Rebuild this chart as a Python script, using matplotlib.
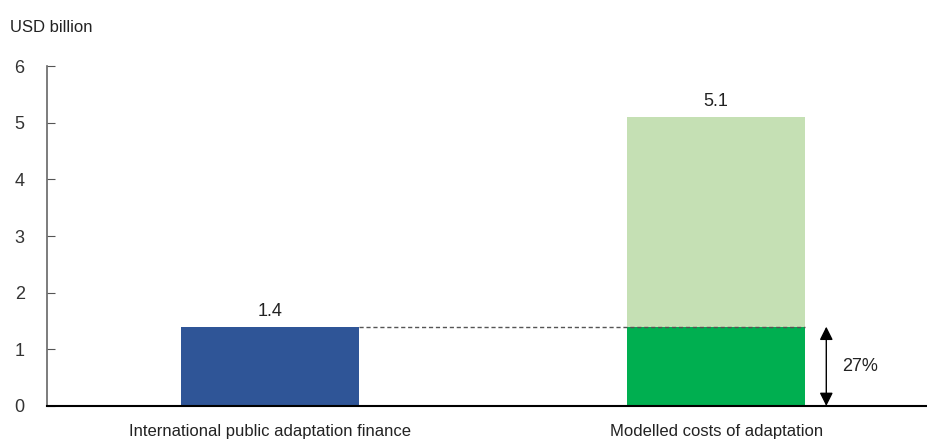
import matplotlib.pyplot as plt
import numpy as np

categories = ["International public adaptation finance", "Modelled costs of adaptation"]
public_finance = 1.4
modelled_costs = 5.1
covered_share = "27%"

plt.rcParams['font.family'] = ['Liberation Sans', 'DejaVu Sans']

fig = plt.figure(figsize=(9.28, 4.41), dpi=100)
ax = fig.add_axes([0.0506, 0.0794, 0.9494, 0.7706])

x = np.arange(len(categories))
w = 0.4

# left bar: finance provided
ax.bar(x[0], public_finance, width=w, color="#2F5597")
ax.text(x[0], public_finance + 0.12, f"{public_finance}", ha="center", va="bottom",
        fontsize=13, color="#222222")

# right bar: covered part + remaining gap
ax.bar(x[1], public_finance, width=w, color="#00AF50")
ax.bar(x[1], modelled_costs - public_finance, bottom=public_finance, width=w, color="#C5E0B4")
ax.text(x[1], modelled_costs + 0.12, f"{modelled_costs}", ha="center", va="bottom",
        fontsize=13, color="#222222")

# dashed guide at finance level
ax.plot([x[0] + w / 2, x[1] + w / 2], [public_finance, public_finance],
        ls=(0, (3, 2)), color="#555555", lw=1)

# double arrow showing the share
arr_x = x[1] + w / 2 + 0.047
ax.annotate("", xy=(arr_x, 0), xytext=(arr_x, public_finance),
            arrowprops=dict(arrowstyle="<|-|>", color="black", lw=1,
                            mutation_scale=20, shrinkA=0, shrinkB=0))
ax.text(arr_x + 0.035, public_finance / 2, covered_share, ha="left", va="center",
        fontsize=13, color="#222222")

ax.set_xlim(-0.5, 1.475)
ax.set_ylim(0, 6)
ax.set_yticks(range(7))
ax.set_xticks(x)
ax.set_xticklabels(categories, fontsize=12, color="#222222")
ax.tick_params(axis="x", length=0, pad=13)
ax.tick_params(axis="y", direction="in", length=6, color="#555555", labelsize=13,
               labelcolor="#333333", pad=16)

for s in ["top", "right"]:
    ax.spines[s].set_visible(False)
ax.spines["left"].set_color("#666666")
ax.spines["left"].set_linewidth(1.2)
ax.spines["bottom"].set_color("black")
ax.spines["bottom"].set_linewidth(1.5)

fig.text(10 / 928, 1 - 28 / 441, "USD billion", fontsize=12, color="#222222", va="center")

fig.savefig("out.png", dpi=100)
